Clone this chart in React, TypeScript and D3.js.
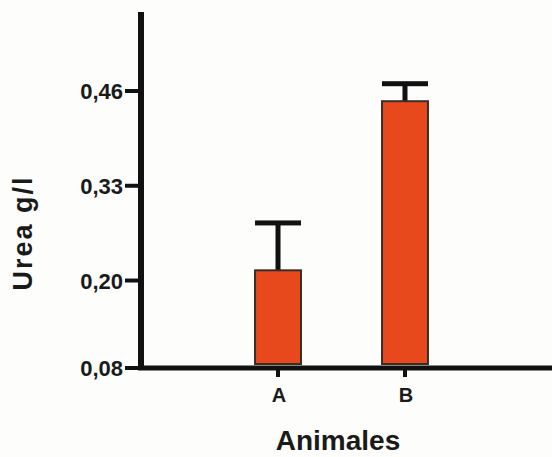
import React from "react";
import * as d3 from "d3";

const categories = ["A", "B"];
const means = [0.214, 0.446];
const errors = [0.065, 0.024];
const yTicks = [0.08, 0.2, 0.33, 0.46];

const W = 552, H = 457;
const x0 = 141, yBase = 368;

const App = () => {
  const ref = React.useRef<SVGSVGElement>(null);

  React.useEffect(() => {
    const svg = d3.select(ref.current);
    svg.selectAll("*").remove();
    const font = "'Liberation Sans', Arial, sans-serif";

    const yScale = d3.scaleLinear([0.08, 0.46], [yBase, 91]);
    const xScale = d3.scaleBand(categories, [x0, 542]).paddingInner(0.638).paddingOuter(0.898);
    const bw = xScale.bandwidth();
    const data = categories.map((c, i) => ({ c, m: means[i], e: errors[i] }));

    // error bars (behind bars)
    const eb = svg.append("g").attr("fill", "#111");
    eb.selectAll("rect.stem").data(data).join("rect")
      .attr("x", d => xScale(d.c)! + bw / 2 - 2.5)
      .attr("y", d => yScale(d.m + d.e))
      .attr("width", 5)
      .attr("height", d => yScale(d.m) - yScale(d.m + d.e));
    eb.selectAll("rect.cap").data(data).join("rect")
      .attr("x", d => xScale(d.c)!)
      .attr("y", d => yScale(d.m + d.e) - 2.5)
      .attr("width", bw)
      .attr("height", 5);

    // bars
    svg.append("g").selectAll("rect").data(data).join("rect")
      .attr("x", d => xScale(d.c)!)
      .attr("y", d => yScale(d.m))
      .attr("width", bw)
      .attr("height", d => yBase - 4 - yScale(d.m))
      .attr("fill", "#e8491c")
      .attr("stroke", "#3a2e28")
      .attr("stroke-width", 2);

    // y axis
    const ya = svg.append("g");
    ya.append("line").attr("x1", x0).attr("x2", x0).attr("y1", 12).attr("y2", yBase + 2)
      .attr("stroke", "#111").attr("stroke-width", 6);
    ya.selectAll("line.t").data(yTicks).join("line")
      .attr("x1", x0 - 16).attr("x2", x0)
      .attr("y1", d => yScale(d)).attr("y2", d => yScale(d))
      .attr("stroke", "#111").attr("stroke-width", 4);
    ya.selectAll("text").data(yTicks).join("text")
      .attr("x", 123)
      .attr("y", d => yScale(d) + 8)
      .attr("text-anchor", "end")
      .attr("font-family", font).attr("font-weight", "bold").attr("font-size", 22)
      .attr("fill", "#1a1a1a")
      .text(d => d.toFixed(2).replace(".", ","));

    // x axis
    const xa = svg.append("g");
    xa.append("line").attr("x1", x0 - 3).attr("x2", W).attr("y1", yBase).attr("y2", yBase)
      .attr("stroke", "#111").attr("stroke-width", 5);
    xa.selectAll("line.t").data(categories).join("line")
      .attr("x1", d => xScale(d)! + bw / 2).attr("x2", d => xScale(d)! + bw / 2)
      .attr("y1", yBase).attr("y2", yBase + 9)
      .attr("stroke", "#111").attr("stroke-width", 4);
    xa.selectAll("text").data(categories).join("text")
      .attr("x", d => xScale(d)! + bw / 2 + 1)
      .attr("y", 402)
      .attr("text-anchor", "middle")
      .attr("font-family", font).attr("font-weight", "bold").attr("font-size", 20)
      .attr("fill", "#1a1a1a")
      .text(d => d);

    svg.append("text")
      .attr("x", 338).attr("y", 450)
      .attr("text-anchor", "middle")
      .attr("font-family", font).attr("font-weight", "bold").attr("font-size", 28)
      .attr("fill", "#1a1a1a")
      .text("Animales");

    svg.append("text")
      .attr("transform", "translate(32,233) rotate(-90)")
      .attr("text-anchor", "middle")
      .attr("font-family", font).attr("font-weight", "bold").attr("font-size", 27)
      .attr("letter-spacing", 2)
      .attr("fill", "#1a1a1a")
      .text("Urea g/l");
  }, []);

  return (
    <svg ref={ref} width={W} height={H}
      style={{ position: "absolute", left: 0, top: 0, background: "#fdfdfc" }} />
  );
};

export default App;
